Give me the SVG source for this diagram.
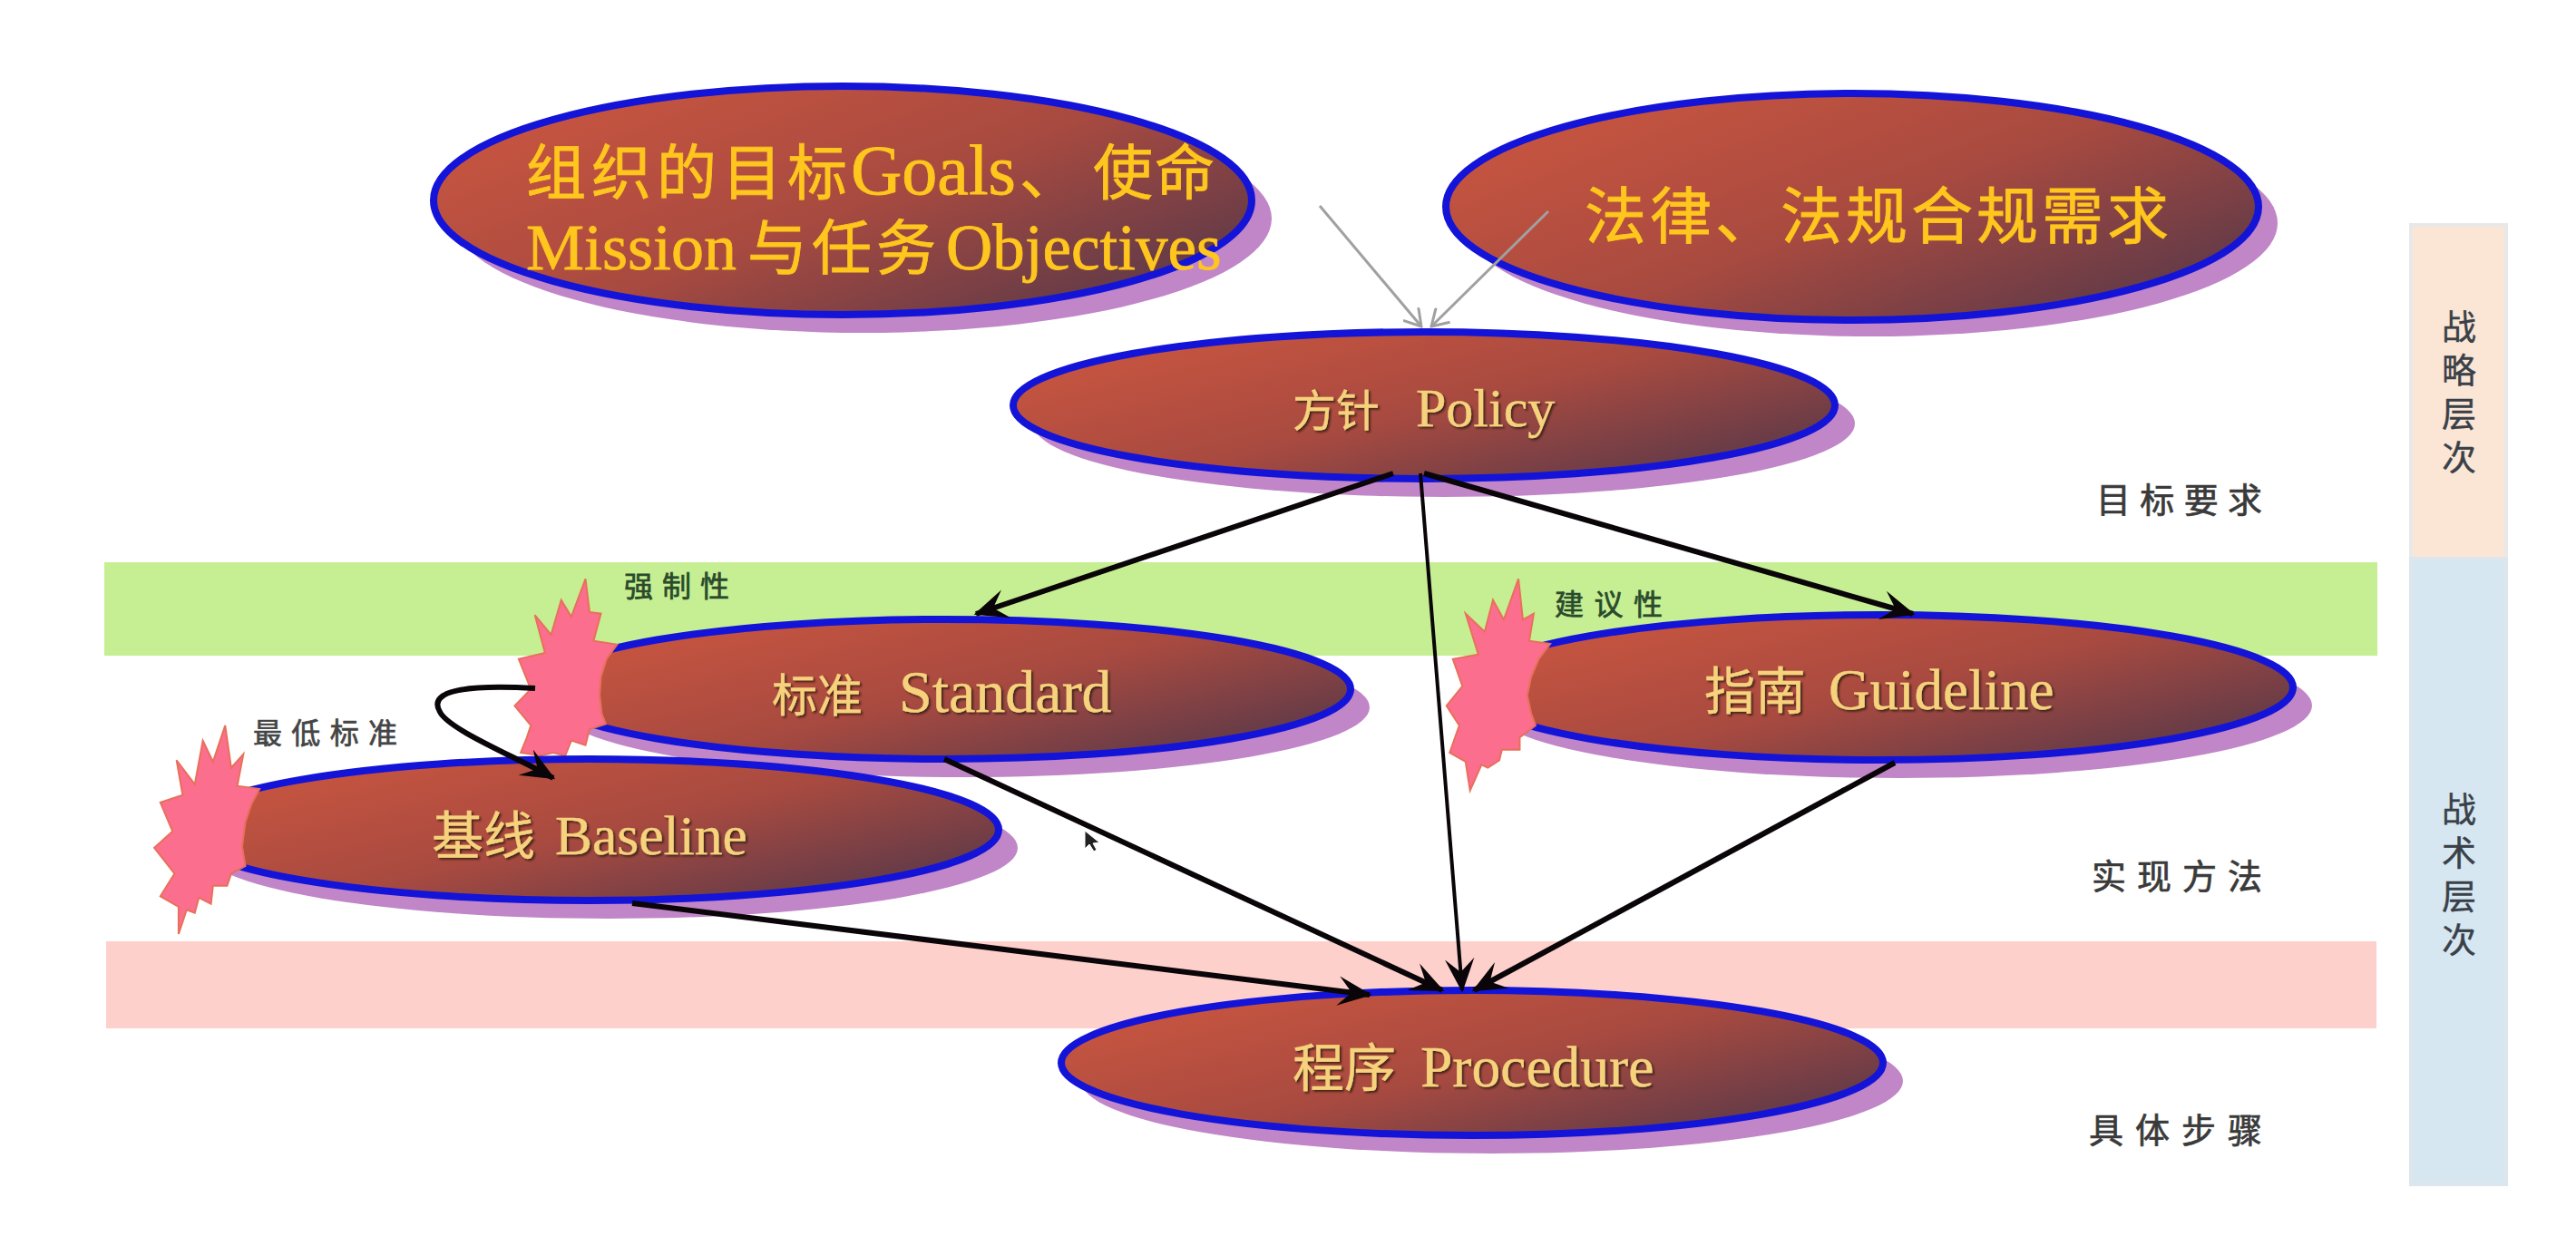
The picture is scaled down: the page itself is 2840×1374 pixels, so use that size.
<svg xmlns="http://www.w3.org/2000/svg" width="2840" height="1374" viewBox="0 0 2840 1374">
<style>
text{font-family:"Liberation Serif","Noto Sans CJK SC",serif}
.sh{fill:#c086c8}
.el{fill:url(#brown);stroke:#1414d8;stroke-width:8}
.big{font-size:66px;fill:#ffc61e;stroke:#ffc61e;stroke-width:0.8}
.lab{font-size:54px;fill:#f6d27c;filter:url(#ds);stroke:#f6d27c;stroke-width:0.4}
.small{font-size:32px;fill:#2a4a2c;stroke:#2a4a2c;stroke-width:0.7}
.side{font-size:38px;fill:#3a3a3a;stroke:#3a3a3a;stroke-width:0.7;font-family:"Noto Sans CJK SC",sans-serif}
.vert{font-size:38px;fill:#3a4048;stroke:#3a4048;stroke-width:0.4;font-family:"Noto Sans CJK SC",sans-serif;writing-mode:vertical-rl;letter-spacing:10px}
.star{fill:#fb6e8e;stroke:#e8705a;stroke-width:2;vector-effect:non-scaling-stroke}
.thin{fill:none;stroke:#a0a0a0;stroke-width:3;marker-end:url(#open)}
.bold{fill:none;stroke:#0a0508;stroke-width:6;marker-end:url(#head)}
</style>
<defs>
<linearGradient id="brown" x1="0.05" y1="0.15" x2="1" y2="0.85">
<stop offset="0" stop-color="#c85540"/><stop offset="0.5" stop-color="#a84a40"/><stop offset="1" stop-color="#573849"/>
</linearGradient>
<filter id="ds" x="-5%" y="-10%" width="110%" height="125%"><feDropShadow dx="2" dy="2" stdDeviation="1" flood-color="#2a1510" flood-opacity="0.8"/></filter>
<marker id="head" markerUnits="userSpaceOnUse" markerWidth="40" markerHeight="40" refX="28" refY="16" orient="auto" viewBox="0 0 32 32"><path d="M0 3 L30 16 L0 29 L12 16Z" fill="#0a0508"/></marker>
<marker id="open" markerUnits="userSpaceOnUse" markerWidth="24" markerHeight="24" refX="22" refY="12" orient="auto" viewBox="0 0 24 24"><path d="M4 1 L22 12 L4 23" fill="none" stroke="#a0a0a0" stroke-width="3"/></marker>
</defs>
<rect width="2840" height="1374" fill="#ffffff"/>
<g id="bands">
<rect x="115" y="620" width="2506" height="103" fill="#c6ee92"/>
<rect x="117" y="1038" width="2503" height="96" fill="#fdd0cc"/>
<rect x="2658" y="248" width="105" height="368" fill="#fbe6d6" stroke="#e8e8e8" stroke-width="4"/>
<rect x="2658" y="616" width="105" height="690" fill="#d6e7f2" stroke="#dde6ec" stroke-width="4"/>
</g>
<g id="strategy"><text class="vert" x="2711" y="341">战略层次</text></g>
<g id="tactics"><text class="vert" x="2711" y="873">战术层次</text></g>
<g id="label-goals"><text class="side" x="2311" y="565" textLength="183">目标要求</text></g>
<g id="label-method"><text class="side" x="2306" y="980" textLength="188">实现方法</text></g>
<g id="label-steps"><text class="side" x="2303" y="1260" textLength="191">具体步骤</text></g>
<g id="node-goals">
<ellipse class="sh" cx="951" cy="241" rx="451" ry="126"/>
<ellipse class="el" cx="929" cy="221" rx="451" ry="126"/>
<text class="big" y="214"><tspan x="580" letter-spacing="6">组织的目标</tspan><tspan x="938" style="font-size:78px">Goals</tspan><tspan x="1124">、</tspan><tspan x="1205" letter-spacing="2">使命</tspan></text>
<text class="big" y="297"><tspan x="580" style="font-size:72px">Mission</tspan><tspan x="824" letter-spacing="5">与任务</tspan><tspan x="1043" style="font-size:71px">Objectives</tspan></text>
</g>
<g id="node-legal">
<ellipse class="sh" cx="2063" cy="246" rx="448" ry="125"/>
<ellipse class="el" cx="2042" cy="228" rx="448" ry="125"/>
<text class="big" x="1747" y="263" letter-spacing="4" style="font-size:68px">法律、法规合规需求</text>
</g>
<g id="node-policy">
<ellipse class="sh" cx="1592" cy="467" rx="453" ry="81"/>
<ellipse class="el" cx="1570" cy="447" rx="453" ry="81"/>
<text class="lab" y="470"><tspan x="1425" style="font-size:48px">方针 </tspan><tspan x="1561" style="font-size:60px">Policy</tspan></text>
</g>
<g id="node-guideline">
<ellipse class="sh" cx="2094" cy="778" rx="455" ry="80"/>
<ellipse class="el" cx="2073" cy="758" rx="455" ry="80"/>
<polygon class="star" transform="translate(1500 600) scale(0.7018 0.3333)" points="248,115 255,250 272,230 265,320 298,330 280,380 268,440 262,500 268,560 275,600 250,640 250,680 222,680 218,715 200,740 190,730 172,815 165,720 140,690 155,600 135,535 160,470 145,380 185,365 165,230 195,290 208,185 225,250"/>
<text class="lab" y="782"><tspan x="1879" style="font-size:56px">指南 </tspan><tspan x="2016" style="font-size:63px">Guideline</tspan></text>
<text class="small" x="1714" y="678" textLength="119">建议性</text>
</g>
<g id="node-standard">
<ellipse class="sh" cx="1062" cy="780" rx="448" ry="77"/>
<ellipse class="el" cx="1041" cy="760" rx="448" ry="77"/>
<polygon class="star" transform="translate(150 600) scale(0.4464 0.3333)" points="1110,115 1120,225 1148,230 1130,320 1188,332 1162,380 1148,440 1145,500 1150,560 1160,595 1120,612 1110,665 1075,650 1060,700 1030,690 1000,700 950,690 965,640 975,600 935,535 975,480 945,380 1010,360 985,235 1025,300 1050,185 1075,240"/>
<text class="lab" y="785"><tspan x="851" style="font-size:50px">标准 </tspan><tspan x="991" style="font-size:66px">Standard</tspan></text>
<text class="small" x="688" y="658" textLength="116">强制性</text>
</g>
<g id="node-baseline">
<ellipse class="sh" cx="671" cy="935" rx="451" ry="78"/>
<ellipse class="el" cx="650" cy="915" rx="451" ry="78"/>
<polygon class="star" transform="translate(150 600) scale(0.4464 0.3333)" points="220,600 235,740 265,695 250,800 305,810 285,860 270,920 262,1000 270,1065 235,1090 225,1130 190,1130 185,1190 155,1170 145,1220 125,1210 105,1290 105,1200 60,1165 95,1090 45,1005 90,950 60,855 115,830 100,715 145,795 165,650 190,720"/>
<text class="lab" y="942"><tspan x="476" style="font-size:57px">基线 </tspan><tspan x="612" style="font-size:61.5px">Baseline</tspan></text>
<text class="small" x="279" y="820" textLength="159" style="fill:#454545;stroke:#454545">最低标准</text>
</g>
<g id="node-procedure">
<ellipse class="sh" cx="1645" cy="1192" rx="453" ry="80"/>
<ellipse class="el" cx="1623" cy="1172" rx="453" ry="80"/>
<text class="lab" y="1198"><tspan x="1425" style="font-size:57px">程序 </tspan><tspan x="1566" style="font-size:63.5px">Procedure</tspan></text>
</g>
<g id="connectors">
<path class="thin" d="M1455 227L1567 360"/>
<path class="thin" d="M1707 233L1578 360"/>
<path class="bold" d="M1536 522L1076 677"/>
<path class="bold" d="M1570 522L2109 677"/>
<path class="bold" style="stroke-width:4" d="M1566 522L1612 1092"/>
<path class="bold" d="M1041 837L1590 1092"/>
<path class="bold" d="M2089 841L1625 1092"/>
<path class="bold" d="M697 996L1510 1097"/>
<path class="bold" d="M590 759C520 755 470 760 485 785C495 805 570 835 610 858"/>
</g>
<path id="cursor" d="M1196 916L1196 936L1201 931L1206 939L1209 937L1205 930L1212 929Z" fill="#222" stroke="#fff" stroke-width="1"/>
</svg>
